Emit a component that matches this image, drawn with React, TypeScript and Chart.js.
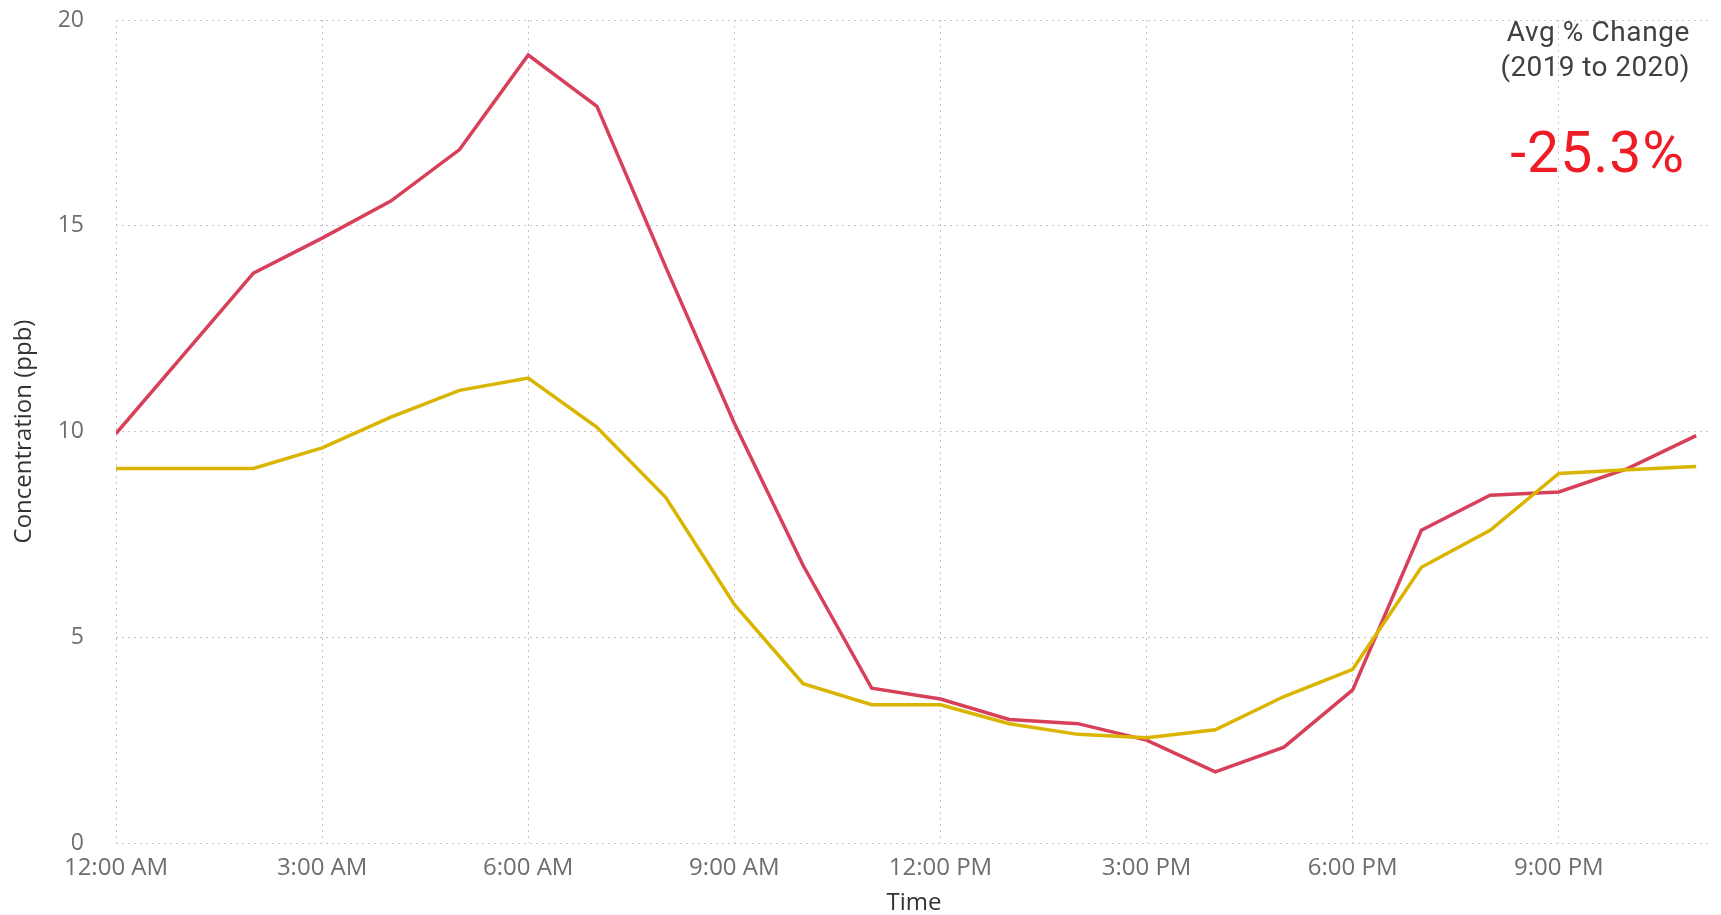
import React, { useEffect, useRef } from "react";
import { Chart, registerables } from "chart.js";

Chart.register(...registerables);

// Hours of the day (0 = 12:00 AM ... 23 = 11:00 PM)
const hours: number[] = [0, 1, 2, 3, 4, 5, 6, 7, 8, 9, 10, 11, 12, 13, 14, 15, 16, 17, 18, 19, 20, 21, 22, 23];

// Concentration (ppb), 2019 (red)
const series2019: number[] = [9.95, 11.9, 13.85, 14.7, 15.6, 16.85, 19.15, 17.9, 14.0, 10.2, 6.75, 3.76, 3.5, 3.0, 2.9, 2.5, 1.73, 2.33, 3.72, 7.6, 8.45, 8.53, 9.1, 9.9];

// Concentration (ppb), 2020 (yellow)
const series2020: number[] = [9.1, 9.1, 9.1, 9.6, 10.35, 11.0, 11.3, 10.1, 8.4, 5.8, 3.87, 3.36, 3.36, 2.9, 2.64, 2.56, 2.75, 3.56, 4.22, 6.7, 7.6, 8.98, 9.07, 9.15];

// X tick positions (hours) and Y tick values
const xTickHours: number[] = [0, 3, 6, 9, 12, 15, 18, 21];
const yTicks: number[] = [0, 5, 10, 15, 20];

const cardTitle: string[] = ["Avg % Change", "(2019 to 2020)"];
const cardValue = "-25.3%";

function hourLabel(h: number): string {
  const hh = h % 12 === 0 ? 12 : h % 12;
  const ampm = h < 12 ? "AM" : "PM";
  return `${hh}:00 ${ampm}`;
}

export default function App() {
  const canvasRef = useRef<HTMLCanvasElement | null>(null);

  useEffect(() => {
    const canvas = canvasRef.current;
    if (!canvas) return;
    const chart = new Chart(canvas, {
      type: "line",
      data: {
        datasets: [
          {
            label: "2020",
            data: hours.map((h, i) => ({ x: h, y: series2020[i] })),
            borderColor: "#D9B500",
            backgroundColor: "#D9B500",
            borderWidth: 3.5,
            pointRadius: 0,
            tension: 0,
          },
          {
            label: "2019",
            data: hours.map((h, i) => ({ x: h, y: series2019[i] })),
            borderColor: "#D8405A",
            backgroundColor: "#D8405A",
            borderWidth: 3.5,
            pointRadius: 0,
            tension: 0,
          },
        ],
      },
      options: {
        responsive: false,
        animation: false,
        layout: { padding: { top: 20, right: 9, left: 0, bottom: 0 } },
        plugins: {
          legend: { display: false },
          tooltip: { enabled: false },
        },
        scales: {
          x: {
            type: "linear",
            min: 0,
            max: 23.23,
            afterBuildTicks: (scale: any) => {
              scale.ticks = xTickHours.map((v) => ({ value: v }));
            },
            afterFit: (scale: any) => {
              scale.height = 72;
              scale.paddingLeft = 0;
              scale.paddingRight = 0;
            },
            ticks: {
              autoSkip: false,
              maxRotation: 0,
              padding: 11,
              color: "#6e6e6e",
              font: { family: "'Open Sans', sans-serif", size: 24 },
              callback: (v: any) => hourLabel(Number(v)),
            },
            grid: {
              color: "#c6c6c6",
              lineWidth: 1,
              drawTicks: false,
            },
            border: { display: false, dash: [2, 4] },
            title: {
              display: true,
              text: "Time",
              color: "#333333",
              font: { family: "'Open Sans', sans-serif", size: 24, lineHeight: 1 },
              padding: { top: 0, bottom: 0 },
            },
          },
          y: {
            min: 0,
            max: 20,
            afterBuildTicks: (scale: any) => {
              scale.ticks = yTicks.map((v) => ({ value: v }));
            },
            afterFit: (scale: any) => {
              scale.width = 116;
              scale.paddingTop = 0;
              scale.paddingBottom = 0;
            },
            ticks: {
              padding: 32,
              color: "#6e6e6e",
              font: { family: "'Open Sans', sans-serif", size: 23 },
            },
            grid: {
              color: "#c6c6c6",
              lineWidth: 1,
              drawTicks: false,
            },
            border: { display: false, dash: [2, 4] },
            title: {
              display: true,
              text: "Concentration (ppb)",
              color: "#333333",
              font: { family: "'Open Sans', sans-serif", size: 24 },
              padding: { top: 10, bottom: 0 },
            },
          },
        },
      },
    });
    return () => chart.destroy();
  }, []);

  const cardFont = "Roboto, 'Open Sans', sans-serif";

  return (
    <div style={{ position: "fixed", left: 0, top: 0, width: 1721, height: 915, background: "#ffffff" }}>
      <canvas ref={canvasRef} width={1721} height={915} style={{ display: "block" }} />
      <div
        style={{
          position: "absolute",
          right: 31,
          top: 18,
          fontFamily: cardFont,
          fontSize: 28,
          lineHeight: "28px",
          letterSpacing: "0.6px",
          color: "#404040",
          textAlign: "right",
          whiteSpace: "nowrap",
        }}
      >
        {cardTitle[0]}
      </div>
      <div
        style={{
          position: "absolute",
          right: 31,
          top: 53,
          fontFamily: cardFont,
          fontSize: 28,
          lineHeight: "28px",
          letterSpacing: "0.4px",
          color: "#404040",
          textAlign: "right",
          whiteSpace: "nowrap",
        }}
      >
        {cardTitle[1]}
      </div>
      <div
        style={{
          position: "absolute",
          right: 36,
          top: 124,
          fontFamily: cardFont,
          fontSize: 57,
          lineHeight: "57px",
          letterSpacing: "1px",
          color: "#EE1C25",
          textAlign: "right",
          whiteSpace: "nowrap",
        }}
      >
        {cardValue}
      </div>
    </div>
  );
}
